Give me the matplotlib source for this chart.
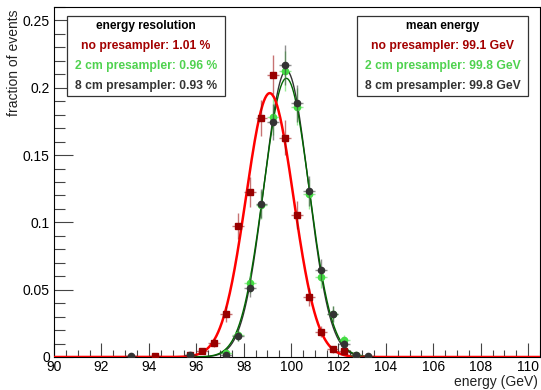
import numpy as np
import matplotlib
matplotlib.use("Agg")
import matplotlib.pyplot as plt
from matplotlib.patches import Rectangle
from matplotlib.ticker import MultipleLocator

plt.rcParams['font.family'] = ['Liberation Sans', 'DejaVu Sans']

# bin centres (GeV), fraction of events, errors
red_x = [94.25, 95.75, 96.25, 96.75, 97.25, 97.75, 98.25, 98.75, 99.25, 99.75,
         100.25, 100.75, 101.25, 101.75, 102.25, 102.75]
red_y = [0.001, 0.0015, 0.0047, 0.0105, 0.032, 0.0973, 0.1224, 0.1777, 0.2097, 0.163,
         0.1055, 0.0449, 0.0189, 0.0057, 0.0047, 0.001]
red_err = [0.001, 0.0012, 0.0022, 0.0033, 0.0057, 0.0099, 0.011, 0.0133, 0.0145, 0.0128,
           0.0103, 0.0067, 0.0043, 0.0024, 0.0022, 0.001]

green_x = [97.25, 97.75, 98.25, 98.75, 99.25, 99.75, 100.25, 100.75, 101.25, 101.75,
           102.25, 102.75]
green_y = [0.0027, 0.016, 0.055, 0.113, 0.1785, 0.2125, 0.186, 0.121, 0.0593, 0.032,
           0.0127, 0.0015]
green_err = [0.0016, 0.004, 0.0074, 0.0106, 0.0134, 0.0146, 0.0136, 0.011, 0.0077, 0.0057,
             0.0036, 0.0012]

black_x = [93.25, 95.75, 97.25, 97.75, 98.25, 98.75, 99.25, 99.75, 100.25, 100.75,
           101.25, 101.75, 102.25, 102.75, 103.25]
black_y = [0.001, 0.0015, 0.0015, 0.0159, 0.0516, 0.114, 0.1745, 0.217, 0.1886, 0.123,
           0.0648, 0.032, 0.0097, 0.0015, 0.001]
black_err = [0.001, 0.0012, 0.0012, 0.004, 0.0072, 0.0107, 0.0132, 0.0147, 0.0137, 0.0111,
             0.008, 0.0057, 0.0031, 0.0012, 0.001]

# gaussian fit parameters: mean (GeV), resolution (%), peak height
fit_mean = [99.1, 99.8, 99.8]
fit_res = [1.01, 0.96, 0.93]
fit_amp = [0.196, 0.207, 0.213]

labels = ["no presampler", "2 cm presampler", "8 cm presampler"]
text_colors = ["#a30000", "#4fd24f", "#333333"]
marker_colors = ["#990000", "#44dd44", "#333333"]
line_colors = ["#ff0000", "#006600", "#333333"]

fig = plt.figure(figsize=(5.41, 3.90), dpi=100)
ax = fig.add_axes([54 / 541, 33 / 390, 486 / 541, 350 / 390])

xs = np.linspace(90, 110.5, 800)
for i in [2, 1, 0]:
    sig = fit_res[i] / 100 * fit_mean[i]
    ax.plot(xs, fit_amp[i] * np.exp(-0.5 * ((xs - fit_mean[i]) / sig) ** 2),
            color=line_colors[i], lw=1.8 if i == 0 else 1.0, zorder=3 + (i == 0))

series = [(red_x, red_y, red_err, 's', 5), (green_x, green_y, green_err, 'o', 4.5),
          (black_x, black_y, black_err, 'o', 4.5)]
for i, (x, y, e, m, ms) in enumerate(series):
    ax.errorbar(x, y, yerr=e, xerr=0.25, fmt=m, ms=ms, color=marker_colors[i],
                ecolor=marker_colors[i], elinewidth=1.0, capsize=0, zorder=5 + i)
# lighter error bars like the original
for c in ax.collections:
    c.set_alpha(0.55)

ax.set_xlim(90, 110.5)
ax.set_ylim(0, 0.26)
ax.xaxis.set_major_locator(MultipleLocator(2))
ax.xaxis.set_minor_locator(MultipleLocator(0.5))
ax.yaxis.set_minor_locator(MultipleLocator(0.01))
ax.set_yticks([0, 0.05, 0.1, 0.15, 0.2, 0.25])
ax.set_yticklabels(["0", "0.05", "0.1", "0.15", "0.2", "0.25"])
ax.tick_params(axis='x', which='major', direction='in', length=10, width=0.8,
               color='#444444', labelsize=10, pad=2, top=False)
ax.tick_params(axis='x', which='minor', direction='in', length=5, width=0.8,
               color='#444444', top=False)
ax.tick_params(axis='y', which='major', direction='in', length=14, width=0.8,
               color='#444444', labelsize=10, pad=3, right=False)
ax.tick_params(axis='y', which='minor', direction='in', length=8, width=0.8,
               color='#444444', right=False)
for s in ax.spines.values():
    s.set_linewidth(0.8)

fig.text(14 / 541, 1 - 10 / 390, "fraction of events", rotation=90, ha='center',
         va='top', fontsize=10, color='#222222')
fig.text(538 / 541, 1 - 382 / 390, "energy (GeV)", ha='right', va='center',
         fontsize=10, color='#222222')

# the two text boxes
boxes = [(67, 225.3, "energy resolution", ["%s: %.2f %%" % (l, r) for l, r in zip(labels, fit_res)]),
         (357.3, 527.7, "mean energy", ["%s: %.1f GeV" % (l, m) for l, m in zip(labels, fit_mean)])]
for x0, x1, title, lines in boxes:
    fig.patches.append(Rectangle((x0 / 541, 1 - 95.7 / 390), (x1 - x0) / 541, 79.7 / 390,
                                 transform=fig.transFigure, fill=True, facecolor='white',
                                 edgecolor='#333333', lw=0.9, zorder=10))
    xc = (x0 + x1) / 2 / 541
    fig.text(xc, 1 - 25.7 / 390, title, ha='center', va='center', fontsize=8.6,
             fontweight='bold', color='black', zorder=11)
    for k, t in enumerate(lines):
        fig.text(xc, 1 - (45.7 + 20 * k) / 390, t, ha='center', va='center', fontsize=8.7,
                 fontweight='bold', color=text_colors[k], zorder=11)

fig.savefig("out.png", dpi=100)
